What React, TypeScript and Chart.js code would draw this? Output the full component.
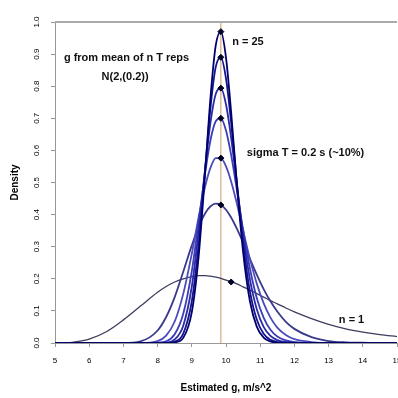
import React, { useEffect, useRef } from "react";
import { Chart, registerables } from "chart.js";
Chart.register(...registerables);

// Estimated g values (x positions of the samples)
const xValues = [5, 5.5, 6, 6.5, 7, 7.5, 8, 8.25, 8.5, 8.75, 9, 9.2, 9.4, 9.55, 9.7, 9.85, 10, 10.15, 10.3, 10.5, 10.7, 10.9, 11.1, 11.3, 11.5, 11.75, 12, 12.5, 13, 13.5, 14, 14.5, 15];

// Density curves, one per number of repetitions
const density_n25 = [0, 0, 0, 0, 0, 0, 0, 0, 0.002, 0.016, 0.096, 0.27, 0.546, 0.769, 0.927, 0.97, 0.889, 0.719, 0.518, 0.284, 0.13, 0.051, 0.017, 0.005, 0.001, 0, 0, 0, 0, 0, 0, 0, 0];
const density_n20 = [0, 0, 0, 0, 0, 0, 0, 0, 0.004, 0.029, 0.13, 0.308, 0.555, 0.737, 0.86, 0.89, 0.824, 0.687, 0.52, 0.311, 0.161, 0.073, 0.029, 0.01, 0.003, 0.001, 0, 0, 0, 0, 0, 0, 0];
const density_n15 = [0, 0, 0, 0, 0, 0, 0, 0.001, 0.011, 0.054, 0.176, 0.349, 0.553, 0.69, 0.776, 0.794, 0.743, 0.64, 0.51, 0.337, 0.198, 0.105, 0.05, 0.022, 0.009, 0.003, 0.001, 0, 0, 0, 0, 0, 0];
const density_n12 = [0, 0, 0, 0, 0, 0, 0.001, 0.005, 0.027, 0.091, 0.224, 0.378, 0.537, 0.634, 0.691, 0.7, 0.662, 0.586, 0.489, 0.352, 0.232, 0.14, 0.079, 0.041, 0.02, 0.008, 0.003, 0, 0, 0, 0, 0, 0];
const density_n8 = [0, 0, 0, 0, 0, 0, 0.006, 0.023, 0.067, 0.153, 0.278, 0.392, 0.492, 0.547, 0.576, 0.576, 0.55, 0.503, 0.442, 0.351, 0.262, 0.185, 0.124, 0.079, 0.048, 0.025, 0.012, 0.003, 0, 0, 0, 0, 0];
const density_n4 = [0, 0, 0, 0, 0, 0.005, 0.039, 0.081, 0.143, 0.222, 0.304, 0.363, 0.406, 0.426, 0.434, 0.43, 0.415, 0.391, 0.36, 0.313, 0.262, 0.213, 0.168, 0.13, 0.098, 0.066, 0.044, 0.018, 0.006, 0.002, 0.001, 0, 0];
const density_n1 = [0, 0.002, 0.012, 0.035, 0.072, 0.115, 0.158, 0.176, 0.19, 0.2, 0.207, 0.21, 0.21, 0.208, 0.205, 0.201, 0.196, 0.191, 0.185, 0.175, 0.165, 0.154, 0.143, 0.132, 0.122, 0.109, 0.097, 0.076, 0.058, 0.044, 0.034, 0.026, 0.02];

// Means of each distribution (marker points)
const meanX = [9.85, 9.85, 9.85, 9.85, 9.85, 9.85, 10.15];
const meanY = [0.97, 0.89, 0.794, 0.7, 0.576, 0.43, 0.19];

// True g reference line
const trueG = 9.85;
const refLineY = [0, 1];

const xTickMin = 5;
const xTickMax = 15;
const yTickMin = 0;
const yTickMax = 1;

const curveColors = ["#00006e", "#14148f", "#2a2aa8", "#3c3cb8", "#4b4bbd", "#3a3a8c", "#3d3d5e"];

const annotations = [
  { text: "g from mean of n T reps", x: 5.26, y: 0.888, align: "left" },
  { text: "N(2,(0.2))", x: 7.05, y: 0.829, align: "center" },
  { text: "n = 25", x: 10.18, y: 0.938, align: "left" },
  { text: "sigma T = 0.2 s (~10%)", x: 10.61, y: 0.592, align: "left" },
  { text: "n = 1", x: 13.3, y: 0.072, align: "left" },
];

export default function App() {
  const ref = useRef<HTMLCanvasElement>(null);
  useEffect(() => {
    document.body.style.margin = "0";
    document.body.style.overflow = "hidden";
    Chart.defaults.font.family = "'Liberation Sans', Arial, sans-serif";
    Chart.defaults.color = "#000";
    const canvas = ref.current!;
    const pts = (ys: number[]) => xValues.map((x, i) => ({ x, y: ys[i] }));
    const series = [density_n25, density_n20, density_n15, density_n12, density_n8, density_n4, density_n1];

    const textPlugin = {
      id: "textPlugin",
      afterDraw(chart: any) {
        const { ctx, chartArea, scales } = chart;
        ctx.save();
        ctx.strokeStyle = "#aaaaaa";
        ctx.lineWidth = 2;
        ctx.beginPath();
        ctx.moveTo(chartArea.left, chartArea.top);
        ctx.lineTo(chartArea.right, chartArea.top);
        ctx.stroke();
        ctx.fillStyle = "#111";
        ctx.font = "bold 11px 'Liberation Sans', Arial, sans-serif";
        ctx.textBaseline = "middle";
        annotations.forEach((a) => {
          ctx.textAlign = a.align as CanvasTextAlign;
          ctx.fillText(a.text, scales.x.getPixelForValue(a.x), scales.y.getPixelForValue(a.y));
        });
        ctx.restore();
      },
    };

    const chart = new Chart(canvas, {
      type: "line",
      data: {
        datasets: [
          {
            label: "mean",
            data: meanX.map((x, i) => ({ x, y: meanY[i] })),
            showLine: false,
            pointStyle: "rectRot",
            pointRadius: 3,
            backgroundColor: "#000022",
            borderColor: "#000022",
          },
          ...series.map((s, i) => ({
            label: "n" + i,
            data: pts(s),
            borderColor: curveColors[i],
            borderWidth: i === 6 ? 1.3 : 1.8,
            pointRadius: 0,
            cubicInterpolationMode: "monotone" as const,
            fill: false,
          })),
          {
            label: "true g",
            data: refLineY.map((y) => ({ x: trueG, y })),
            borderColor: "#d09a60",
            borderWidth: 1,
            pointRadius: 0,
          },
        ],
      },
      options: {
        responsive: false,
        animation: false,
        devicePixelRatio: 1,
        layout: { padding: { top: 22, right: 33, left: 0, bottom: 0 } },
        plugins: { legend: { display: false }, tooltip: { enabled: false } },
        scales: {
          x: {
            type: "linear",
            min: xTickMin,
            max: xTickMax,
            afterFit: (s: any) => { s.height = 55; },
            ticks: { stepSize: 1, font: { size: 8 }, padding: 9 },
            grid: { display: true, drawOnChartArea: false, drawTicks: true, tickLength: 4, color: "#999" },
            border: { display: true, color: "#999" },
            title: { display: true, text: "Estimated g, m/s^2", font: { size: 10, weight: "bold" }, padding: { top: 0, bottom: 4 } },
          },
          y: {
            min: yTickMin,
            max: yTickMax,
            afterFit: (s: any) => { s.width = 55; },
            ticks: {
              stepSize: 0.1,
              font: { size: 8 },
              minRotation: 90,
              maxRotation: 90,
              crossAlign: "center",
              padding: 9,
              callback: (v: any) => Number(v).toFixed(1),
            },
            grid: { display: true, drawOnChartArea: false, drawTicks: true, tickLength: 4, color: "#999" },
            border: { display: true, color: "#999" },
            title: { display: true, text: "Density", font: { size: 10, weight: "bold" }, padding: { top: 9, bottom: 0 } },
          },
        },
      },
      plugins: [textPlugin],
    });
    return () => chart.destroy();
  }, []);
  return (
    <div style={{ width: 398, height: 398, overflow: "hidden", position: "relative", background: "#fff" }}>
      <canvas ref={ref} width={430} height={398} style={{ display: "block", width: 430, height: 398 }} />
    </div>
  );
}
